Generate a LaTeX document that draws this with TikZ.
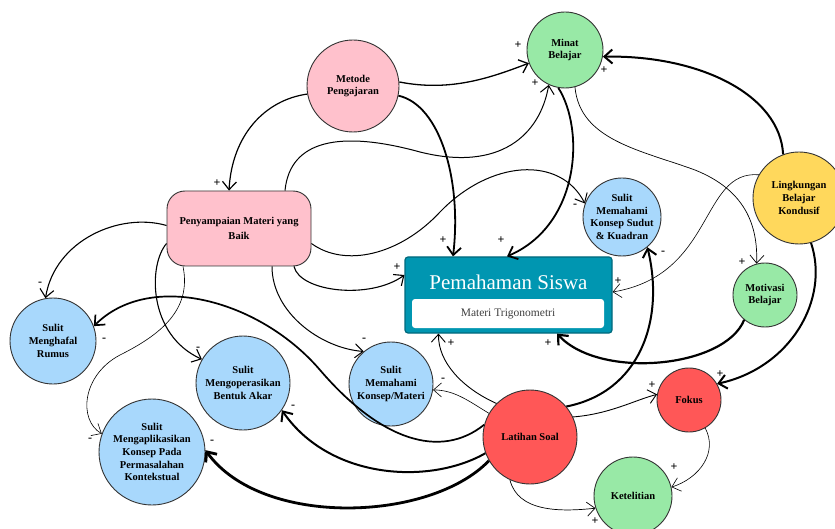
\documentclass[tikz,border=0pt]{standalone}
\usepackage{fontspec}
\setmainfont{Liberation Serif}
\usetikzlibrary{arrows.meta}

\definecolor{pinkfill}{RGB}{255,193,204}
\definecolor{greenfill}{RGB}{152,233,166}
\definecolor{bluefill}{RGB}{168,216,252}
\definecolor{yellowfill}{RGB}{255,216,92}
\definecolor{redfill}{RGB}{255,87,87}
\definecolor{tealfill}{RGB}{0,150,177}

\begin{document}
\begin{tikzpicture}[x=1pt, y=-1pt,
    faktor/.style={circle, draw=black!80, line width=0.9pt, inner sep=0pt, align=center, font=\bfseries\fontsize{10.5}{12.7}\selectfont},
    link/.style={-{Straight Barb[length=8pt,width=14pt]}},
    pol/.style={font=\bfseries\fontsize{12}{12}\selectfont, inner sep=0pt}]
        \useasboundingbox (0,0) rectangle (835,529); % page
        \node[faktor, fill=pinkfill, minimum size=92pt] (metode) at (353,86) {Metode\\Pengajaran}; % metode
        \node[faktor, fill=greenfill, minimum size=76pt] (minat) at (565,50) {Minat\\Belajar}; % minat
        \node[draw=black!80, line width=0.9pt, fill=pinkfill, rounded corners=18pt, minimum width=144pt, minimum height=75pt, align=center, font=\bfseries\fontsize{10.5}{12.7}\selectfont] (penyampaian) at (239,228.5) {Penyampaian Materi yang\\[2pt]Baik}; % penyampaian
        \node[draw=tealfill!70!black, line width=1.2pt, fill=tealfill, rounded corners=3pt, minimum width=207pt, minimum height=76pt] (pemahaman) at (508.5,295) {}; % main box
        \node[text=white, font=\fontsize{21}{21}\selectfont] (judul) at (508.5,282) {Pemahaman Siswa}; % title
        \node[fill=white, rounded corners=3pt, minimum width=192pt, minimum height=29pt, text=black!75, font=\fontsize{11.5}{12}\selectfont] (trigono) at (508,313.5) {Materi Trigonometri}; % subtitle
        \node[faktor, fill=bluefill, minimum size=78pt] (sudut) at (622,217) {Sulit\\Memahami\\Konsep Sudut\\\& Kuadran}; % sudut
        \node[faktor, fill=yellowfill, minimum size=92pt] (lingkungan) at (799,198) {Lingkungan\\Belajar\\Kondusif}; % lingkungan
        \node[faktor, fill=greenfill, minimum size=64pt] (motivasi) at (765,295) {Motivasi\\Belajar}; % motivasi
        \node[faktor, fill=bluefill, minimum size=86pt] (menghafal) at (53,341) {Sulit\\Menghafal\\Rumus}; % menghafal
        \node[faktor, fill=bluefill, minimum size=94pt] (akar) at (243,383) {Sulit\\Mengoperasikan\\Bentuk Akar}; % akar
        \node[faktor, fill=bluefill, minimum size=84pt] (materi) at (391,384) {Sulit\\Memahami\\Konsep/Materi}; % materi
        \node[faktor, fill=bluefill, minimum size=106pt] (aplikasi) at (152,452) {Sulit\\Mengaplikasikan\\Konsep Pada\\Permasalahan\\Kontekstual}; % aplikasi
        \node[faktor, fill=redfill, minimum size=94pt] (latihan) at (530,437) {Latihan Soal}; % latihan
        \node[faktor, fill=redfill, minimum size=64pt] (fokus) at (689,400) {Fokus}; % fokus
        \node[faktor, fill=greenfill, minimum size=78pt] (teliti) at (633,496) {Ketelitian}; % ketelitian

        \draw[link, line width=1.3pt] (metode.5) .. controls (450,92) and (490,78) .. (minat.200); % metode -> minat
        \draw[link, line width=1.2pt] (metode.190) .. controls (265,100) and (232,135) .. ([xshift=-10pt]penyampaian.north); % metode -> penyampaian
        \draw[link, line width=1.8pt] (metode.-12) .. controls (440,105) and (462,180) .. ([xshift=-55.5pt]pemahaman.north); % metode -> pemahaman
        \draw[link, line width=1.8pt] (minat.-100) .. controls (585,130) and (580,225) .. ([xshift=-1.5pt]pemahaman.north); % minat -> pemahaman
        \draw[link, line width=1pt] ([xshift=46pt]penyampaian.north) .. controls (290,140) and (340,130) .. (420,152) .. controls (500,172) and (540,135) .. (minat.-115); % penyampaian -> minat
        \draw[link, line width=0.7pt] (minat.-75) .. controls (580,140) and (640,150) .. (695,170) .. controls (745,190) and (758,225) .. (motivasi.105); % minat -> motivasi
        \draw[link, line width=2pt] (lingkungan.110) .. controls (780,95) and (700,55) .. (minat.-10); % lingkungan -> minat
        \draw[link, line width=0.6pt] (lingkungan.150) .. controls (700,170) and (715,275) .. ([yshift=3pt]pemahaman.east); % lingkungan -> pemahaman
        \draw[link, line width=2pt] (lingkungan.-75) .. controls (830,300) and (790,368) .. (fokus.30); % lingkungan -> fokus
        \draw[link, line width=1pt] ([yshift=-15pt]penyampaian.east) .. controls (345,268) and (400,255) .. (440,212) .. controls (490,160) and (560,155) .. (sudut.160); % penyampaian -> sudut
        \draw[link, line width=1.1pt] ([xshift=55pt]penyampaian.south) .. controls (300,292) and (370,300) .. ([yshift=20pt]pemahaman.west); % penyampaian -> pemahaman
        \draw[link, line width=1.1pt] ([yshift=3pt]penyampaian.west) .. controls (120,212) and (55,240) .. (menghafal.100); % penyampaian -> menghafal
        \draw[link, line width=1.1pt] ([yshift=-15pt]penyampaian.west) .. controls (148,265) and (148,335) .. (akar.150); % penyampaian -> akar
        \draw[link, line width=0.6pt] ([xshift=-56pt]penyampaian.south) .. controls (192,310) and (160,335) .. (120,355) .. controls (82,375) and (78,420) .. (aplikasi.160); % penyampaian -> aplikasi
        \draw[link, line width=1pt] ([xshift=33pt]penyampaian.south) .. controls (272,312) and (320,348) .. (materi.130); % penyampaian -> materi
        \draw[link, line width=1.7pt] (latihan.165) .. controls (440,460) and (380,440) .. (320,370) .. controls (260,300) and (150,270) .. (menghafal.20); % latihan -> menghafal
        \draw[link, line width=2pt] (latihan.200) .. controls (430,485) and (330,480) .. (akar.-35); % latihan -> akar
        \draw[link, line width=2.8pt] (latihan.210) .. controls (430,522) and (262,528) .. (aplikasi.2); % latihan -> aplikasi
        \draw[link, line width=0.6pt] (latihan.150) .. controls (470,402) and (455,390) .. (materi.-8); % latihan -> materi
        \draw[link, line width=0.9pt] (latihan.135) .. controls (462,388) and (438,362) .. ([xshift=-70pt]pemahaman.south); % latihan -> pemahaman
        \draw[link, line width=2pt] (latihan.40) .. controls (640,392) and (665,320) .. (sudut.-50); % latihan -> sudut
        \draw[link, line width=0.9pt] (latihan.25) .. controls (610,414) and (635,400) .. (fokus.170); % latihan -> fokus
        \draw[link, line width=0.7pt] (latihan.245) .. controls (518,512) and (560,512) .. (teliti.198); % latihan -> ketelitian
        \draw[link, line width=0.6pt] (fokus.-60) .. controls (718,452) and (700,478) .. (teliti.13); % fokus -> ketelitian
        \draw[link, line width=2.2pt] (motivasi.230) .. controls (725,368) and (600,380) .. ([xshift=48.5pt]pemahaman.south); % motivasi -> pemahaman

        \node[pol] (p1) at (518,45) {+}; % metode -> minat
        \node[pol] (p2) at (217,183) {+}; % metode -> penyampaian
        \node[pol] (p3) at (443,240) {+}; % metode -> pemahaman
        \node[pol] (p4) at (501,240) {+}; % minat -> pemahaman
        \node[pol] (p5) at (535,83) {+}; % penyampaian -> minat
        \node[pol] (p6) at (742,262) {+}; % minat -> motivasi
        \node[pol] (p7) at (604,70) {+}; % lingkungan -> minat
        \node[pol] (p8) at (618,281) {+}; % lingkungan -> pemahaman
        \node[pol] (p9) at (720,374) {+}; % lingkungan -> fokus
        \node[pol] (m10) at (575,206) {-}; % penyampaian -> sudut
        \node[pol] (p11) at (397,267) {+}; % penyampaian -> pemahaman
        \node[pol] (m12) at (40,284) {-}; % penyampaian -> menghafal
        \node[pol] (m13) at (198,349) {-}; % penyampaian -> akar
        \node[pol] (m14) at (90,440) {-}; % penyampaian -> aplikasi
        \node[pol] (m15) at (364,340) {-}; % penyampaian -> materi
        \node[pol] (m16) at (104,340) {-}; % latihan -> menghafal
        \node[pol] (m17) at (293,407) {-}; % latihan -> akar
        \node[pol] (m18) at (212,442) {-}; % latihan -> aplikasi
        \node[pol] (m19) at (443,380) {-}; % latihan -> materi
        \node[pol] (p20) at (451,343) {+}; % latihan -> pemahaman
        \node[pol] (m21) at (663,253) {-}; % latihan -> sudut
        \node[pol] (p22) at (652,385) {+}; % latihan -> fokus
        \node[pol] (p23) at (595,521) {+}; % latihan -> ketelitian
        \node[pol] (p24) at (674,467) {+}; % fokus -> ketelitian
        \node[pol] (p25) at (548,343) {+}; % motivasi -> pemahaman
    \end{tikzpicture}
\end{document}
